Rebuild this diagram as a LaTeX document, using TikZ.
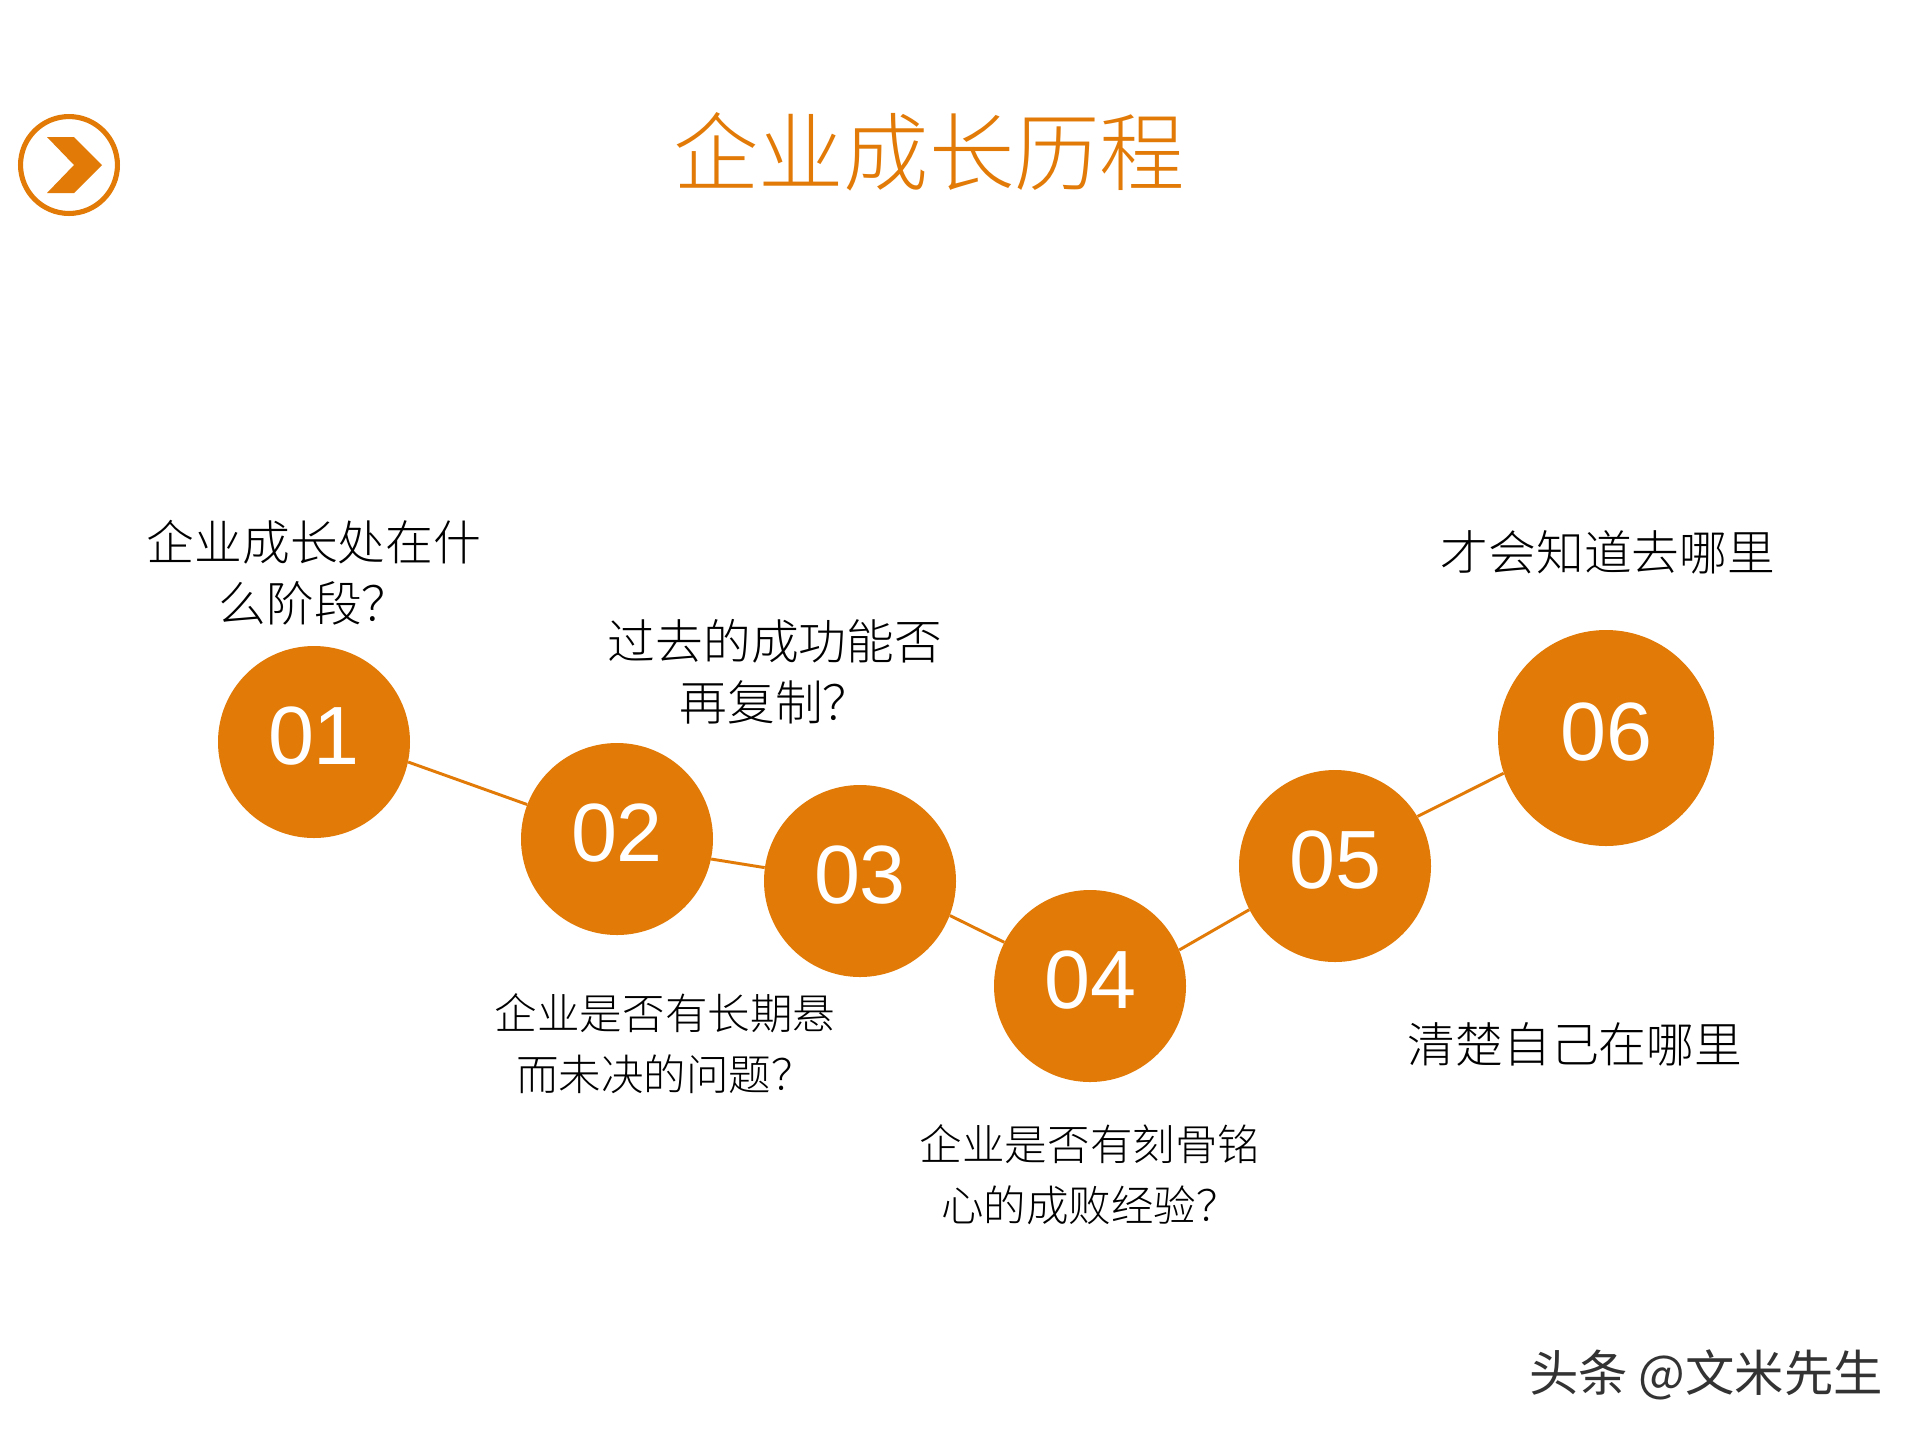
\documentclass[tikz,border=0pt]{standalone}
\usepackage{fontspec}
\setmainfont{Liberation Sans}
\newfontfamily\cjk[UprightFont={* Light}]{Noto Sans CJK SC}
\newfontfamily\cjkreg{Noto Sans CJK SC}
\definecolor{brandorange}{HTML}{E27A07}
\newcommand{\dotnum}[1]{\raisebox{-17pt}[0pt][0pt]{#1}}
\tikzset{
  numdot/.style={circle,fill=brandorange,text=white,inner sep=0pt,minimum size=144pt,font=\fontsize{62pt}{64pt}\selectfont},
  bigdot/.style={numdot,minimum size=162pt},
  linkline/.style={draw=brandorange,line width=2.2pt},
  caption/.style={inner sep=0pt,align=center,text=black,font=\cjk\fontsize{35.8pt}{45.8pt}\selectfont},
  smallcaption/.style={caption,font=\cjk\fontsize{31.9pt}{46pt}\selectfont},
  titletext/.style={inner sep=0pt,text=brandorange,font=\cjk\fontsize{64pt}{66pt}\selectfont},
  marktext/.style={inner sep=0pt,text=black!80,font=\cjkreg\fontsize{37pt}{39pt}\selectfont}
}
\begin{document}
\begin{tikzpicture}[x=0.75pt,y=-0.75pt]
\useasboundingbox[fill=white] (0,0) rectangle (1920,1440);
% nodes
\node[numdot] (n1) at (314,742) {\dotnum{01}};
\node[numdot] (n2) at (617,839) {\dotnum{02}};
\node[numdot] (n3) at (860,881) {\dotnum{03}};
\node[numdot] (n4) at (1090,986) {\dotnum{04}};
\node[numdot] (n5) at (1335,866) {\dotnum{05}};
\node[bigdot] (n6) at (1606,738) {\dotnum{06}};
% connectors
\draw[linkline] (n1.-12) -- (n2.159);
\draw[linkline] (n2.-12) -- (n3.172);
\draw[linkline] (n3.-21) -- (n4.153);
\draw[linkline] (n4.22) -- (n5.207);
\draw[linkline] (n5.31) -- (n6.199);
% title and icon
\node[titletext] (title) at (929,152) {企业成长历程};
\node[circle,draw=brandorange,line width=3.8pt,minimum size=72.7pt,inner sep=0pt] (icon) at (69,165) {};
\fill[brandorange] (47,137) -- (74,137) -- (102,165) -- (74,193) -- (47,193) -- (74,165) -- cycle;
% captions
\node[caption] (c1) at (314,573) {企业成长处在什\\么阶段？};
\node[caption] (c2) at (775,672) {过去的成功能否\\再复制？};
\node[smallcaption] (c3) at (665,1044) {企业是否有长期悬\\而未决的问题？};
\node[smallcaption] (c4) at (1090,1175) {企业是否有刻骨铭\\心的成败经验？};
\node[caption] (c5) at (1575,1044) {清楚自己在哪里};
\node[caption] (c6) at (1608,552) {才会知道去哪里};
\node[marktext] (mark) at (1706,1375) {头条 @文米先生};
\end{tikzpicture}
\end{document}
